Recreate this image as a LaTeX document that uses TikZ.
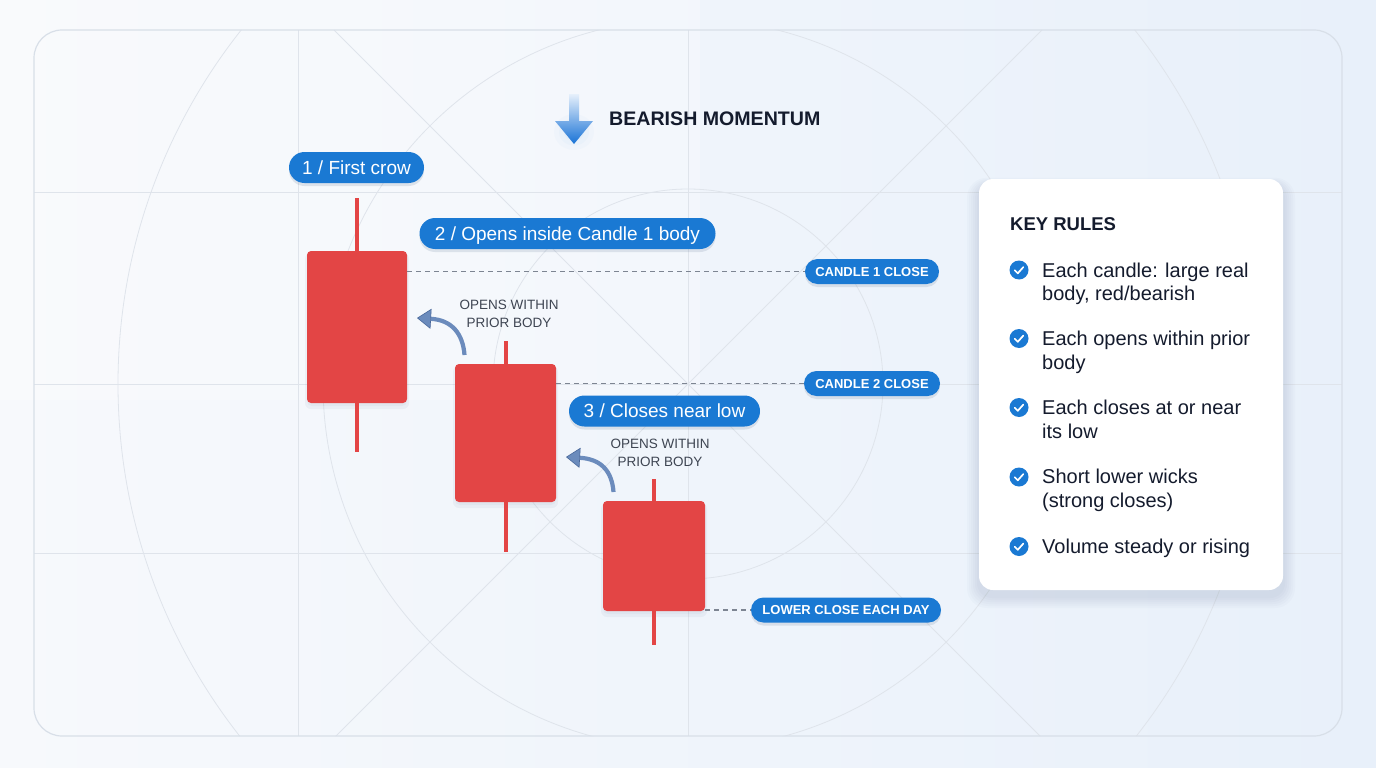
\documentclass[tikz,border=0pt]{standalone}
\usepackage{fontspec}
\setmainfont{Liberation Sans}
\usetikzlibrary{arrows.meta,shadows}
\definecolor{bgA}{HTML}{F7F9FC}
\definecolor{bgB}{HTML}{E8F0FA}
\definecolor{gridc}{HTML}{DFE4EB}
\definecolor{framec}{HTML}{D8DFE8}
\definecolor{candleR}{HTML}{E34545}
\definecolor{pillB}{HTML}{1A79D3}
\definecolor{navy}{HTML}{141B2D}
\definecolor{noteG}{HTML}{3E4552}
\definecolor{arrowB}{HTML}{6B8BBC}
\definecolor{arrowD}{HTML}{48679A}
\definecolor{dashc}{HTML}{7D8592}
\definecolor{shadowc}{HTML}{6A7F9C}
\definecolor{ttop}{HTML}{E6F0FB}
\definecolor{tmid}{HTML}{5AA2EC}
\definecolor{tbot}{HTML}{1872D6}
\definecolor{glowc}{HTML}{8CC2F5}
\begin{document}
\begin{tikzpicture}[x=1pt,y=-1pt,
  gridline/.style={draw=gridc, line width=0.8pt},
  candle/.style={fill=candleR, rounded corners=4pt, inner sep=0pt, draw=none},
  wick/.style={draw=candleR, line width=4pt},
  pill/.style={fill=pillB, text=white, inner sep=0pt, text depth=0pt,
    drop shadow={shadow xshift=0pt, shadow yshift=-3pt, opacity=0.18, fill=shadowc}},
  bigpill/.style={pill, minimum height=31pt, rounded corners=15.5pt,
    font=\fontsize{19}{23}\selectfont, text height=13.6pt},
  smallpill/.style={pill, minimum height=25pt, rounded corners=12.5pt,
    font=\bfseries\fontsize{13}{15}\selectfont, text height=9.3pt},
  note/.style={align=center, text=noteG, inner sep=0pt,
    font=\fontsize{13.5}{18}\selectfont},
  closeline/.style={draw=dashc, line width=1.1pt, dash pattern=on 5pt off 4pt},
  curvearrow/.style={draw=arrowB, line width=4.2pt,
    -{Triangle[length=14pt,width=20pt,fill=arrowB,color=arrowD,line width=0.6pt]}},
  check/.style={circle, fill=pillB, minimum size=19pt, inner sep=0pt},
  checkmark/.style={draw=white, line width=1.7pt, line cap=round, line join=round},
  item/.style={anchor=base west, inner sep=0pt, text=navy,
    font=\fontsize{20}{24}\selectfont},
]
\useasboundingbox (0,0) rectangle (1376,768);
% background
\shade[left color=bgA, right color=bgB] (0,0) rectangle (1376,768);
\fill[white, opacity=0.25] (0,0) rectangle (700,400);

% frame and grid
\begin{scope}
\clip[rounded corners=28pt] (34,30) rectangle (1342,736);
\draw[gridline] (34,192) -- (1342,192);
\draw[gridline] (34,384) -- (1342,384);
\draw[gridline] (34,553) -- (1342,553);
\draw[gridline] (298,30) -- (298,736);
\draw[gridline] (688,30) -- (688,736);
\draw[gridline] (334,30) -- (1042,738);
\draw[gridline] (334,738) -- (1042,30);
\draw[gridline] (688,384) circle[radius=570];
\draw[gridline] (688,384) circle[radius=365];
\draw[gridline] (688,384) circle[radius=195];
\end{scope}
\draw[framec, line width=1.2pt, rounded corners=28pt] (34,30) rectangle (1342,736);

% title arrow with glow
\foreach \r/\o in {20/0.04,15/0.05,10/0.07}{
  \fill[glowc, opacity=\o] (574,132) ellipse[x radius=\r, y radius=\r*0.9];
}
\shade[top color=ttop, middle color=tmid, bottom color=tbot]
  (569,94) -- (579,94) -- (579,121) -- (593,121) -- (574,144) -- (555,121) -- (569,121) -- cycle;
\node[anchor=base west, inner sep=0pt, text=navy,
  font=\bfseries\fontsize{19.6}{22}\selectfont] (title) at (609,125.7) {BEARISH MOMENTUM};

% candles: soft shadows
\foreach \cx/\cy/\w/\h in {357/327/100/152, 505.5/433/101/138, 654/556/102/110}{
  \fill[shadowc, opacity=0.07, rounded corners=6pt]
    (\cx-\w/2-2,\cy-\h/2+2) rectangle (\cx+\w/2+2,\cy+\h/2+6);
  \fill[shadowc, opacity=0.06, rounded corners=5pt]
    (\cx-\w/2,\cy-\h/2+2) rectangle (\cx+\w/2,\cy+\h/2+3);
}
\node[candle, minimum width=100pt, minimum height=152pt] (c1) at (357,327) {};
\node[candle, minimum width=101pt, minimum height=138pt] (c2) at (505.5,433) {};
\node[candle, minimum width=102pt, minimum height=110pt] (c3) at (654,556) {};
\draw[wick] (c1.north) -- ++(0,-53);
\draw[wick] (c1.south) -- ++(0,49);
\draw[wick] (c2.north) -- ++(0,-23);
\draw[wick] (c2.south) -- ++(0,50);
\draw[wick] (c3.north) -- ++(0,-22);
\draw[wick] (c3.south) -- ++(0,34);

% step labels
\node[bigpill, minimum width=135pt] (s1) at (356.5,167.5) {1 / First crow};
\node[bigpill, minimum width=296pt] (s2) at (567.5,233.5) {2 / Opens inside Candle 1 body};
\node[bigpill, minimum width=191pt] (s3) at (664.5,411) {3 / Closes near low};

% close labels and dashed connectors
\node[smallpill, minimum width=134pt] (l1) at (872,271.5) {CANDLE 1 CLOSE};
\node[smallpill, minimum width=136pt] (l2) at (872,383.5) {CANDLE 2 CLOSE};
\node[smallpill, minimum width=190pt] (l3) at (846,610) {LOWER CLOSE EACH DAY};
\coordinate (c1close) at (c1.east |- l1.west);
\coordinate (c2close) at (c2.east |- l2.west);
\coordinate (c3close) at (c3.east |- l3.west);
\draw[closeline] (c1close) -- (l1.west);
\draw[closeline] (c2close) -- (l2.west);
\draw[closeline] (c3close) -- (l3.west);

% notes and curved arrows
\node[note] (n1) at (509,314) {OPENS WITHIN\\PRIOR BODY};
\node[note] (n2) at (660,453) {OPENS WITHIN\\PRIOR BODY};
\coordinate (a1s) at (464.5,355);
\coordinate (a1e) at (417,318);
\coordinate (a2s) at (613.5,492);
\coordinate (a2e) at (566,457);
\draw[curvearrow] (a1s) .. controls (463,334) and (452,320) .. (a1e);
\draw[curvearrow] (a2s) .. controls (612,471) and (601,459) .. (a2e);

% key rules panel
\foreach \i/\o in {1/0.03,2/0.03,3/0.03,4/0.03,5/0.03,6/0.03}{
  \fill[shadowc, opacity=\o, rounded corners=14pt+\i pt]
    (979-\i*2,179+6-\i*1.2) rectangle (1283+\i*2,590+6+\i*2);
}
\node[fill=white, rounded corners=14pt, minimum width=304pt, minimum height=411pt,
  inner sep=0pt] (panel) at (1131,384.5) {};
\node[anchor=base west, inner sep=0pt, text=navy,
  font=\bfseries\fontsize{18.5}{22}\selectfont] (kr) at (1010,230) {KEY RULES};

\node[check] (k1) at (1019,270) {};
\node[check] (k2) at (1019,338.5) {};
\node[check] (k3) at (1019,407.5) {};
\node[check] (k4) at (1019,477) {};
\node[check] (k5) at (1019,546.5) {};
\foreach \k in {k1,k2,k3,k4,k5}{
  \draw[checkmark] ([shift={(-4.2,0.3)}]\k.center) -- ++(3,3) -- ++(5.5,-6.2);
}
\node[item] (t1a) at (1042,277) {Each candle: large real};
\node[item] (t1b) at (1042,300.5) {body, red/bearish};
\node[item] (t2a) at (1042,345.5) {Each opens within prior};
\node[item] (t2b) at (1042,369) {body};
\node[item] (t3a) at (1042,414.5) {Each closes at or near};
\node[item] (t3b) at (1042,438) {its low};
\node[item] (t4a) at (1042,483.5) {Short lower wicks};
\node[item] (t4b) at (1042,507) {(strong closes)};
\node[item] (t5a) at (1042,553) {Volume steady or rising};
\end{tikzpicture}
\end{document}
